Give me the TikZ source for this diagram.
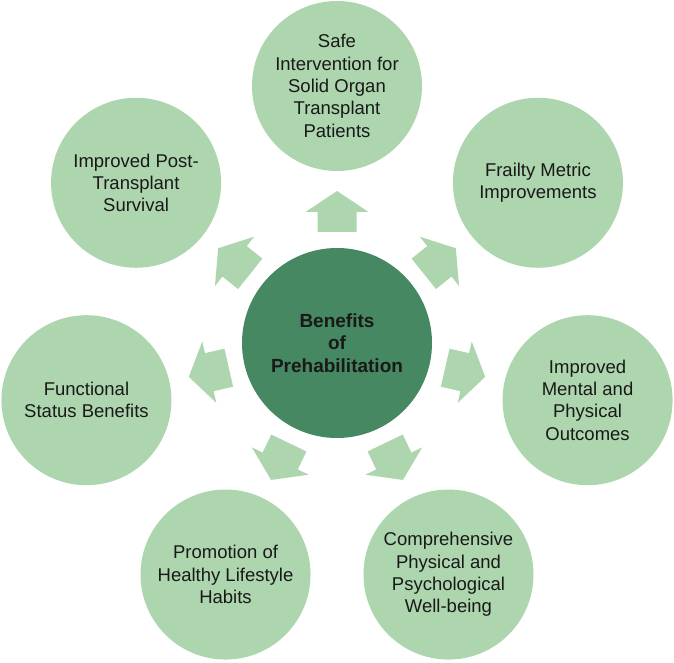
\documentclass[tikz,border=0pt]{standalone}
\usepackage{fontspec}
\setmainfont{Liberation Sans}
\usetikzlibrary{calc}
\definecolor{lightg}{RGB}{173,213,174}
\definecolor{darkg}{RGB}{70,136,98}
\begin{document}
\begin{tikzpicture}[x=1pt,y=1pt,
  outer/.style={circle,fill=lightg,minimum size=170pt,inner sep=0pt,align=center,
    font=\fontsize{18.5}{22.3}\selectfont,text=black!90},
  hub/.style={circle,fill=darkg,minimum size=190pt,inner sep=0pt,align=center,
    font=\fontsize{19}{22.3}\selectfont\bfseries,text=black!90},
  blockarrow/.style={fill=lightg,draw=none}]
\useasboundingbox (0,0) rectangle (674,662);
\coordinate (C) at (337,319);
\node[hub] (hub) at (C) {Benefits\\of\\Prehabilitation};
\node[outer] (n1) at ($(C)+(90:257)$) {Safe\\Intervention for\\Solid Organ\\Transplant\\Patients};
\node[outer] (n2) at ($(C)+(38.57:257)$) {Frailty Metric\\Improvements};
\node[outer] (n3) at ($(C)+(-12.86:257)$) {Improved\\Mental and\\Physical\\Outcomes};
\node[outer] (n4) at ($(C)+(-64.29:257)$) {Comprehensive\\Physical and\\Psychological\\Well-being};
\node[outer] (n5) at ($(C)+(-115.71:257)$) {Promotion of\\Healthy Lifestyle\\Habits};
\node[outer] (n6) at ($(C)+(-167.14:257)$) {Functional\\Status Benefits};
\node[outer] (n7) at ($(C)+(141.43:257)$) {Improved Post-\\Transplant\\Survival};
\foreach \a in {90,38.57,-12.86,-64.29,-115.71,-167.14,141.43}{
  \fill[blockarrow,shift={(C)},rotate=\a]
    (111,-19.5) -- (131,-19.5) -- (131,-31.5) -- (152,0) -- (131,31.5) -- (131,19.5) -- (111,19.5) -- cycle;
}
\end{tikzpicture}
\end{document}
